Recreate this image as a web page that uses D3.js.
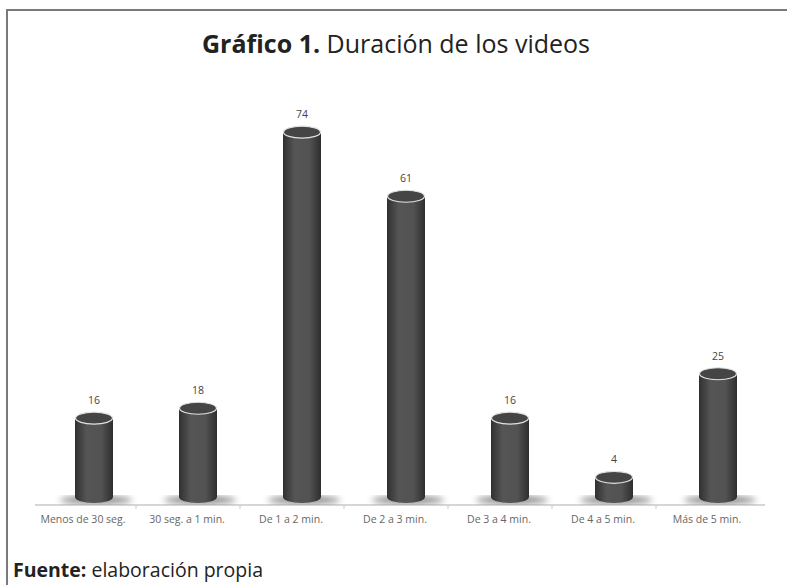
<!DOCTYPE html>
<html>
<head>
<meta charset="utf-8">
<script src="https://cdn.jsdelivr.net/npm/d3@7"></script>
<style>
  body { margin: 0; background: #fff; }
  svg { display: block; }
</style>
</head>
<body>
<script>
const categories = ["Menos de 30 seg.", "30 seg. a 1 min.", "De 1 a 2 min.", "De 2 a 3 min.",
                    "De 3 a 4 min.", "De 4 a 5 min.", "Más de 5 min."];
const values = [16, 18, 74, 61, 16, 4, 25];

const w = 787;
const h = 585;

const svg = d3.select("body")
              .append("svg")
              .attr("width", w)
              .attr("height", h);

// frame: top and left rule
svg.append("line").attr("x1", 6).attr("x2", w).attr("y1", 10).attr("y2", 10)
   .attr("stroke", "#7a7a7a").attr("stroke-width", 2);
svg.append("line").attr("x1", 7).attr("x2", 7).attr("y1", 9).attr("y2", h)
   .attr("stroke", "#7a7a7a").attr("stroke-width", 2);

// title
const title = svg.append("text")
   .attr("x", 396).attr("y", 53)
   .attr("text-anchor", "middle")
   .style("font-family", "'Open Sans', sans-serif")
   .style("font-size", "25px")
   .attr("fill", "#222");
title.append("tspan").style("font-weight", "bold").text("Gráfico 1.");
title.append("tspan").text(" Duración de los videos");

const x = d3.scaleBand()
            .domain(categories)
            .range([42, 770]);

const y = d3.scaleLinear()
            .domain([0, 80])
            .range([497, 102.6]);

const bw = 38, rx = bw / 2, ry = 6;

const defs = svg.append("defs");
const grad = defs.append("linearGradient").attr("id", "cyl")
                 .attr("x1", "0%").attr("x2", "100%").attr("y1", "0%").attr("y2", "0%");
grad.append("stop").attr("offset", "0%").attr("stop-color", "#303030");
grad.append("stop").attr("offset", "30%").attr("stop-color", "#555");
grad.append("stop").attr("offset", "70%").attr("stop-color", "#525252");
grad.append("stop").attr("offset", "100%").attr("stop-color", "#2e2e2e");
defs.append("filter").attr("id", "blur")
    .append("feGaussianBlur").attr("stdDeviation", 3);

// axis line with ticks
const axisY = 505;
svg.append("line").attr("x1", 35).attr("x2", 765).attr("y1", axisY).attr("y2", axisY)
   .attr("stroke", "#c8c8c8").attr("stroke-width", 1.5);
svg.selectAll("line.tick")
   .data(categories.slice(1))
   .enter()
   .append("line")
   .attr("class", "tick")
   .attr("x1", d => x(d) - 10).attr("x2", d => x(d) - 10)
   .attr("y1", axisY).attr("y2", axisY + 4)
   .attr("stroke", "#c8c8c8");

const cx = d => x(d) + x.bandwidth() / 2;

const bars = svg.selectAll("g.bar")
   .data(categories.map((c, i) => ({ c: c, v: values[i] })))
   .enter()
   .append("g")
   .attr("class", "bar");

// base shadow
bars.append("ellipse")
    .attr("cx", d => cx(d.c) + 2).attr("cy", y(0) + 3)
    .attr("rx", bw * 0.95).attr("ry", 4)
    .attr("fill", "#8a8a8a")
    .attr("filter", "url(#blur)");

// bottom cap
bars.append("ellipse")
    .attr("cx", d => cx(d.c)).attr("cy", y(0))
    .attr("rx", rx).attr("ry", ry)
    .attr("fill", "url(#cyl)");

// body
bars.append("rect")
    .attr("x", d => cx(d.c) - rx)
    .attr("y", d => y(d.v))
    .attr("width", bw)
    .attr("height", d => y(0) - y(d.v))
    .attr("fill", "url(#cyl)");

// top cap
bars.append("ellipse")
    .attr("cx", d => cx(d.c)).attr("cy", d => y(d.v))
    .attr("rx", rx - 0.5).attr("ry", ry)
    .attr("fill", "#454545")
    .attr("stroke", "#e2e2e2")
    .attr("stroke-width", 1.2);

// values
bars.append("text")
    .attr("x", d => cx(d.c))
    .attr("y", d => y(d.v) - ry - 8)
    .attr("text-anchor", "middle")
    .style("font-family", "'Open Sans', sans-serif")
    .style("font-size", "10.5px")
    .attr("fill", "#444")
    .text(d => d.v);

// category labels
svg.selectAll("text.cat")
   .data(categories)
   .enter()
   .append("text")
   .attr("class", "cat")
   .attr("x", d => cx(d) - 11)
   .attr("y", 523)
   .attr("text-anchor", "middle")
   .style("font-family", "'Open Sans', sans-serif")
   .style("font-size", "10.5px")
   .attr("fill", "#666")
   .text(d => d);

// source
const src = svg.append("text")
   .attr("x", 13).attr("y", 577)
   .style("font-family", "'Open Sans', sans-serif")
   .style("font-size", "19.5px")
   .attr("fill", "#222");
src.append("tspan").style("font-weight", "bold").text("Fuente:");
src.append("tspan").text(" elaboración propia");
</script>
</body>
</html>
